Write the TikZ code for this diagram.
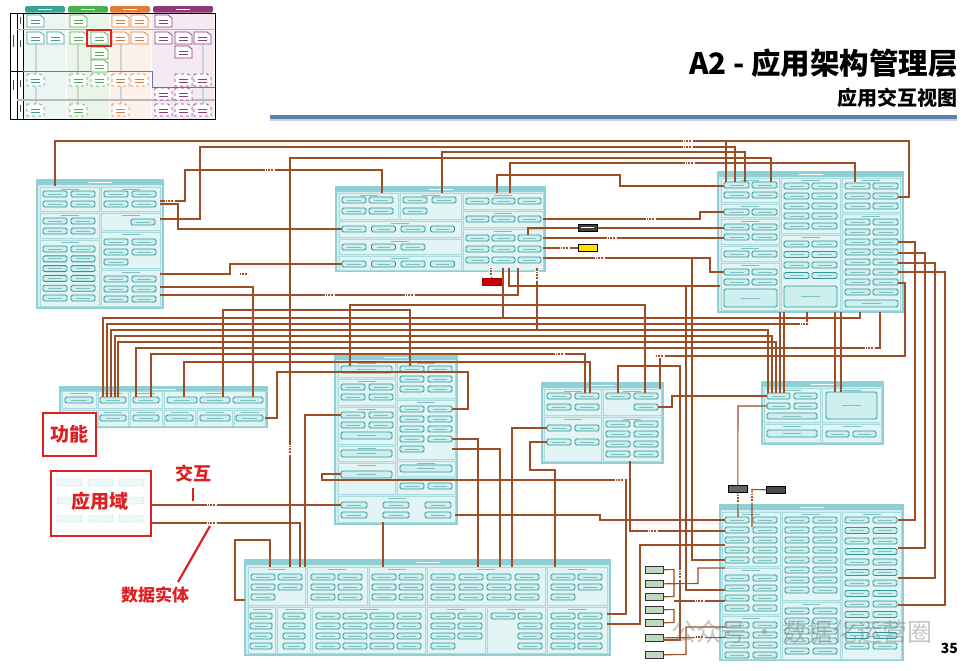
\documentclass[tikz,border=0pt]{standalone}
\usepackage{fontspec}
\setmainfont{Noto Sans CJK SC}
\definecolor{wireC}{HTML}{9E4E24}
\definecolor{domF}{HTML}{D3EDEF}
\definecolor{domB}{HTML}{8ED0D6}
\definecolor{sgF}{HTML}{E3F4F5}
\definecolor{sgB}{HTML}{A9DCE0}
\definecolor{pillB}{HTML}{2F9595}
\definecolor{pillF}{HTML}{CDEFF0}
\definecolor{ptxtC}{HTML}{7FBFBF}
\definecolor{redA}{HTML}{E02020}
\definecolor{thT}{HTML}{3AA393}
\definecolor{thG}{HTML}{4CAF50}
\definecolor{thO}{HTML}{E07B39}
\definecolor{thP}{HTML}{8E3A7A}
\definecolor{lineB}{HTML}{5B7FB0}
\tikzset{
  dom/.style={draw=domB, fill=domF, line width=2pt, inner sep=0pt, outer sep=0pt},
  domhead/.style={fill=domB},
  sgrp/.style={draw=sgB, fill=sgF, line width=0.5pt},
  sgt/.style={draw=ptxtC, line width=0.8pt},
  pill/.style={draw=pillB, fill=pillF, line width=0.9pt, rounded corners=1.5pt},
  ptxt/.style={draw=ptxtC, line width=0.9pt},
  wire/.style={draw=wireC, line width=1.1pt},
  redtxt/.style={text=redA, font=\bfseries\fontsize{19}{20}\selectfont, inner sep=0pt},
  smallbox/.style={draw=black, line width=0.6pt, minimum width=19, minimum height=7, inner sep=0pt, anchor=north west},
}
% pill grid: x0 y0 ncol nrow w h dx dy
\newcommand\pgrid[8]{\foreach \ii in {1,...,#3}{\foreach \jj in {1,...,#4}{%
  \path[pill] ({#1+(\ii-1)*#7},{#2+(\jj-1)*#8}) rectangle ++(#5,#6);
  \draw[ptxt] ({#1+(\ii-1)*#7+0.22*#5},{#2+(\jj-1)*#8+0.5*#6}) -- ++({0.56*#5},0);}}}
% wide pill / box: x1 y1 x2 y2
\newcommand\wpill[4]{\path[pill] (#1,#2) rectangle (#3,#4);
  \draw[ptxt] ({#1+0.32*(#3-#1)},{(#2+#4)/2}) -- ({#3-0.32*(#3-#1)},{(#2+#4)/2});}
% subgroup
\newcommand\sgroup[4]{\path[sgrp] (#1,#2) rectangle (#3,#4);
  \draw[sgt] ({(#1+#3)/2-9},{#2+2.6}) -- ({(#1+#3)/2+9},{#2+2.6});}
% domain: name x1 y1 x2 y2
\newcommand\dmn[5]{\node[dom,anchor=north west,minimum width={#4-#2},minimum height={#5-#3}] (#1) at (#2,#3) {};
  \fill[domhead] (#2,#3) rectangle (#4,#3+4.5);
  \draw[white,line width=0.7pt] ({(#2+#4)/2-12},{#3+2.3}) -- ({(#2+#4)/2+12},{#3+2.3});}
% thumbnail icon
\newcommand\thic[4]{\draw[#3,line width=0.7pt,fill=white,#4] (#1,#2) -- ++(13,0) -- ++(4,3) -- ++(0,9) -- ++(-17,0) -- cycle;
  \draw[#3,line width=0.5pt] (#1+4,#2+5) -- ++(9,0); \draw[#3,line width=0.5pt] (#1+4,#2+8) -- ++(9,0);}
% connector label marks
\newcommand\clab[2]{\fill[white] (#1-5,#2-2) rectangle (#1+5,#2+2);
  \draw[wireC,line width=1.3pt,dash pattern=on 1pt off 0.6pt] (#1-4,#2) -- (#1+4,#2);}
\newcommand\clabv[2]{\fill[white] (#1-2,#2-5) rectangle (#1+2,#2+5);
  \draw[wireC,line width=1.3pt,dash pattern=on 1pt off 0.6pt] (#1,#2-4) -- (#1,#2+4);}
\begin{document}
\begin{tikzpicture}[x=1pt,y=-1pt]
\useasboundingbox (0,0) rectangle (965,670);
\fill[white] (0,0) rectangle (965,670);

% ---------------- thumbnail ----------------
\fill[thT!10] (24,13) rectangle (66,119);
\fill[thG!12] (67,13) rectangle (109,119);
\fill[thO!10] (110,13) rectangle (151,119);
\fill[thP!10] (152,13) rectangle (214,119);
\fill[thT,rounded corners=1.5pt] (25,6) rectangle (65,12.5);
\fill[thG,rounded corners=1.5pt] (68,6) rectangle (108,12.5);
\fill[thO,rounded corners=1.5pt] (110,6) rectangle (150,12.5);
\fill[thP,rounded corners=1.5pt] (153,6) rectangle (213,12.5);
\foreach \cx in {45,88,130,183} \draw[white,line width=0.7pt] (\cx-7,9.3) -- (\cx+7,9.3);
\draw[gray!35,line width=1.4pt] (36,44) -- (36,104) (78,44) -- (78,104) (121,44) -- (121,104) (203,44) -- (203,104);
\draw[black,line width=0.9pt] (10,13) rectangle (215,119);
\draw[black,line width=0.7pt] (17,13) -- (17,119) (23,13) -- (23,119);
\draw[gray!60,line width=0.8pt] (17,29) -- (215,29);
\draw[black,line width=0.9pt] (10,71) -- (23,71);
\draw[lineB,line width=1pt] (23,71) -- (152,71) -- (152,87) -- (215,87);
\draw[gray!55,line width=1.4pt] (17,100) -- (215,100);
\foreach \yy/\hh in {35/12,80/10} \fill[black!70] (12.5,\yy) rectangle (14,\yy+\hh);
\foreach \yy in {17,40,80,105} \fill[black!70] (19.5,\yy) rectangle (21,\yy+7);
\foreach \x/\y/\c in {27/15/thT,70/15/thG,112/15/thO,131/15/thO,155/15/thP,
  27/32/thT,47/32/thT,70/32/thG,91/32/thG,112/32/thO,131/32/thO,155/32/thP,175/32/thP,194/32/thP,
  91/47/thG,175/46/thP,91/60/thG} {\thic{\x}{\y}{\c}{solid}}
\foreach \x/\y/\c in {27/74/thT,70/74/thG,91/74/thG,112/74/thO,131/74/thO,175/74/thP,194/74/thP,
  155/88/thP,175/88/thP,27/104/thT,70/104/thG,112/104/thO,155/104/thP,175/104/thP,194/104/thP} {\thic{\x}{\y}{\c}{dashed}}
\draw[redA,line width=1.6pt] (87,30) rectangle (111,46);

% ---------------- title ----------------
\node[anchor=east,font=\bfseries\fontsize{29.5}{30}\selectfont,inner sep=0pt] (t1) at (958,63) {A2 - 应用架构管理层};
\node[anchor=east,font=\bfseries\fontsize{20}{22}\selectfont,inner sep=0pt] (t2) at (958,98) {应用交互视图};
\fill[lineB] (270,115) rectangle (957,119);
\fill[lineB!35] (270,119) rectangle (957,121);

% ---------------- domain 1 ----------------
\dmn{d1}{37}{180}{163}{308}
\sgroup{40}{187}{99}{211}\pgrid{43}{191}{2}{2}{24}{6}{28}{10}
\sgroup{40}{213}{99}{238}\pgrid{43}{218}{2}{2}{24}{6}{28}{10}
\sgroup{40}{240}{99}{306}\pgrid{43}{246}{2}{6}{24}{6}{28}{9.8}
\sgroup{101}{187}{160}{211}\pgrid{104}{191}{2}{2}{24}{6}{28}{10}
\sgroup{101}{213}{160}{230}\pgrid{131}{219}{1}{1}{24}{6}{28}{10}
\sgroup{101}{232}{160}{268}\pgrid{104}{239}{2}{2}{24}{6}{28}{10}\pgrid{104}{259}{1}{1}{24}{6}{28}{10}
\sgroup{101}{270}{160}{306}\pgrid{104}{276}{2}{3}{24}{6}{28}{10}

% ---------------- domain 2 ----------------
\dmn{d2}{336}{187}{545}{271}
\sgroup{339}{193}{398}{219}\pgrid{342}{197}{2}{2}{24}{6}{27}{11}
\sgroup{400}{193}{461}{219}\pgrid{403}{197}{2}{1}{24}{6}{29}{11}\pgrid{403}{208}{1}{1}{24}{6}{29}{11}
\sgroup{339}{221}{461}{237}\pgrid{342}{226}{4}{1}{24}{6}{29.5}{11}
\sgroup{339}{239}{461}{254}\pgrid{342}{244}{3}{1}{24}{6}{29.5}{11}
\sgroup{339}{256}{461}{270}\pgrid{342}{261}{4}{1}{24}{6}{29.5}{11}
\sgroup{463}{193}{543}{209}\pgrid{466}{198}{3}{1}{23}{6}{26}{11}
\sgroup{463}{211}{543}{227}\pgrid{466}{216}{3}{1}{23}{6}{26}{11}
\sgroup{463}{229}{543}{270}\pgrid{466}{235}{3}{3}{23}{6}{26}{11}

% ---------------- domain 3 ----------------
\dmn{d3}{718}{172}{903}{312}
\sgroup{721}{178}{779}{202}\pgrid{724}{182}{2}{2}{25}{6}{28}{10}
\sgroup{721}{204}{779}{217}\pgrid{724}{209}{2}{1}{25}{6}{28}{10}
\sgroup{721}{219}{779}{244}\pgrid{724}{224}{2}{2}{25}{6}{28}{10}
\sgroup{721}{246}{779}{261}\pgrid{724}{251}{2}{1}{25}{6}{28}{10}
\sgroup{721}{263}{779}{310}\pgrid{724}{269}{2}{2}{25}{6}{28}{10}\wpill{724}{289}{777}{307}
\sgroup{781}{178}{840}{233}\pgrid{784}{183}{2}{5}{25}{6}{28}{10}
\sgroup{781}{235}{840}{310}\pgrid{784}{241}{2}{4}{25}{6}{28}{10.5}\wpill{784}{286}{837}{307}
\sgroup{842}{178}{900}{212}\pgrid{845}{183}{2}{3}{25}{6}{28}{10}
\sgroup{842}{214}{900}{310}\pgrid{845}{219}{2}{8}{25}{6}{28}{10}\wpill{845}{300}{898}{307}

% ---------------- domain 4 ----------------
\dmn{d4}{60}{387}{267}{427}
\sgroup{62}{391}{96}{408}\pgrid{65}{397}{1}{1}{28}{6}{30}{10}
\sgroup{98}{391}{128}{408}\pgrid{100}{397}{1}{1}{26}{6}{30}{10}
\sgroup{130}{391}{162}{408}\pgrid{133}{397}{1}{1}{26}{6}{30}{10}
\sgroup{164}{391}{265}{408}\pgrid{167}{397}{3}{1}{30}{6}{33}{10}
\sgroup{62}{410}{96}{426}
\sgroup{98}{410}{128}{426}\pgrid{100}{415}{1}{1}{26}{6}{30}{10}
\sgroup{130}{410}{162}{426}\pgrid{133}{415}{1}{1}{26}{6}{30}{10}
\sgroup{164}{410}{195}{426}\pgrid{166}{415}{1}{1}{27}{6}{30}{10}
\sgroup{197}{410}{232}{426}\pgrid{200}{415}{1}{1}{30}{6}{30}{10}
\sgroup{234}{410}{265}{426}\pgrid{236}{415}{1}{1}{27}{6}{30}{10}

% ---------------- domain 5 ----------------
\dmn{d5}{335}{355}{457}{524}
\sgroup{338}{361}{395}{377}\wpill{341}{366}{392}{373}
\sgroup{338}{379}{395}{405}\pgrid{341}{384}{2}{2}{24}{6}{28}{10}
\sgroup{338}{407}{395}{444}\pgrid{341}{412}{2}{2}{24}{6}{28}{10}\wpill{341}{432}{392}{439}
\sgroup{338}{446}{395}{461}\wpill{341}{450}{392}{457}
\sgroup{338}{463}{395}{494}\wpill{341}{471}{392}{478}
\sgroup{397}{361}{455}{398}\pgrid{400}{366}{2}{3}{24}{6}{28}{10}
\sgroup{397}{400}{455}{459}\pgrid{400}{406}{2}{4}{24}{6}{28}{10}\pgrid{400}{446}{1}{1}{24}{6}{28}{10}
\sgroup{397}{461}{455}{476}\wpill{400}{465}{452}{472}
\sgroup{397}{478}{455}{494}\pgrid{400}{483}{2}{1}{24}{6}{28}{10}
\sgroup{338}{496}{455}{522}\pgrid{341}{502}{3}{2}{26}{6}{42}{10}

% ---------------- domain 6 ----------------
\dmn{d6}{542}{383}{663}{463}
\sgroup{544}{389}{601}{415}\pgrid{547}{393}{2}{2}{24}{6}{28}{11}
\sgroup{603}{389}{661}{415}\pgrid{606}{393}{2}{1}{24}{6}{28}{11}\pgrid{634}{404}{1}{1}{24}{6}{28}{11}
\sgroup{544}{417}{601}{461}\pgrid{547}{425}{2}{2}{24}{6}{28}{14}
\sgroup{603}{417}{661}{461}\pgrid{606}{421}{2}{4}{24}{6}{28}{10}

% ---------------- domain 7 ----------------
\dmn{d7}{762}{382}{883}{444}
\sgroup{764}{388}{820}{422}\pgrid{767}{393}{2}{2}{23}{6}{27}{10}\wpill{767}{413}{817}{419}
\sgroup{764}{424}{820}{442}\wpill{767}{430}{817}{437}
\sgroup{822}{388}{881}{422}\wpill{826}{392}{877}{419}
\sgroup{822}{424}{881}{442}\pgrid{826}{431}{2}{1}{23}{6}{27}{10}

% ---------------- domain 8 ----------------
\dmn{d8}{720}{505}{903}{660}
\sgroup{722}{512}{780}{566}\pgrid{725}{517}{2}{5}{24}{6}{28}{10}
\sgroup{722}{568}{780}{614}\pgrid{725}{575}{2}{4}{24}{6}{28}{10}
\sgroup{722}{616}{780}{659}\pgrid{725}{622}{2}{4}{24}{6}{28}{10}
\sgroup{782}{512}{840}{600}\pgrid{785}{517}{2}{8}{24}{6}{28}{10}
\sgroup{782}{602}{840}{659}\pgrid{785}{608}{2}{5}{24}{6}{28}{10}
\sgroup{842}{512}{901}{659}\pgrid{845}{517}{2}{13}{24}{6}{28}{10.5}

% ---------------- domain 9 ----------------
\dmn{d9}{245}{560}{610}{655}
\sgroup{248}{567}{305}{605}\pgrid{251}{574}{2}{2}{24}{6}{27}{10}\pgrid{251}{594}{1}{1}{24}{6}{27}{10}
\sgroup{307}{567}{367}{605}\pgrid{311}{574}{2}{3}{24}{6}{27}{10}
\sgroup{369}{567}{425}{605}\pgrid{372}{574}{2}{3}{24}{6}{27}{10}
\sgroup{427}{567}{545}{605}\pgrid{431}{574}{4}{3}{24}{6}{28}{10}
\sgroup{547}{567}{607}{605}\pgrid{551}{574}{2}{2}{24}{6}{27}{10}\pgrid{551}{594}{1}{1}{24}{6}{27}{10}
\sgroup{248}{607}{275}{653}\pgrid{250}{613}{1}{4}{22}{6}{27}{10}
\sgroup{277}{607}{310}{653}\pgrid{283}{613}{1}{4}{22}{6}{27}{10}
\sgroup{312}{607}{425}{653}\pgrid{316}{613}{4}{4}{24}{6}{27}{10}
\sgroup{427}{607}{485}{653}\pgrid{431}{613}{2}{3}{24}{6}{27}{10}\pgrid{431}{643}{1}{1}{24}{6}{27}{10}
\sgroup{487}{607}{545}{653}\pgrid{491}{613}{1}{1}{24}{6}{27}{10}\pgrid{518}{613}{1}{4}{24}{6}{27}{10}
\sgroup{547}{607}{607}{653}\pgrid{551}{613}{2}{4}{24}{6}{27}{10}

% ---------------- small system boxes ----------------
\node[smallbox,fill=black!75,draw=black] (kb) at (578,224) {};
\fill[white] (581,227) rectangle (594,228);
\node[smallbox,fill=yellow!85!orange,draw=black] (yb) at (578,244) {};
\node[smallbox,fill=red!80!black,draw=red!60!black] (rb) at (482,278) {};
\node[smallbox,fill=black!60,draw=black] (gb1) at (728,485) {};
\node[smallbox,fill=black!70,draw=black] (gb2) at (766,486) {};
\foreach \gy/\gn in {566/g1,580/g2,593/g3,606/g4,619/g5,634/g6,651/g7}
  \node[draw=black!80,fill=green!25!gray!40,line width=0.6pt,minimum width=18,minimum height=7,inner sep=0pt,anchor=north west] (\gn) at (645,\gy) {};

% ---------------- connectors ----------------
\draw[wire] (55,186) -- (55,141) -- (909,141) -- (909,197) -- (898,197);
\draw[wire] (726,141) -- (726,182);
\draw[wire] (160,219) -- (200,219) -- (200,147) -- (735,147) -- (735,182);
\draw[wire] (442,193) -- (442,152) -- (745,152) -- (745,182);
\draw[wire] (771,182) -- (771,158) -- (290,158) -- (290,567);
\draw[wire] (510,193) -- (510,163) -- (855,163) -- (855,182);
\draw[wire] (160,201) -- (185,201) -- (185,170) -- (382,170) -- (382,193);
\draw[wire] (497,193) -- (497,175) -- (620,175) -- (620,186) -- (724,186);
\draw[wire] (160,204) -- (178,204) -- (178,229) -- (342,229);
\draw[wire] (160,274) -- (230,274) -- (230,264) -- (342,264);
\draw[wire] (160,287) -- (253,287) -- (253,397);
\draw[wire] (160,295) -- (518,295) -- (518,268);
% domain2 <-> domain3
\draw[wire] (528,235) -- (528,228) -- (kb.west |- 0,228);
\draw[wire] (kb.east |- 0,228) -- (724,228);
\draw[wire] (543,219) -- (700,219) -- (700,212) -- (724,212);
\draw[wire] (543,238) -- (724,238);
\draw[wire] (543,248) -- (yb.west |- 0,248);
\draw[wire] (543,258) -- (710,258) -- (710,272) -- (724,272);
\draw[wire] (491,268) -- (rb.north);
\draw[wire] (503,268) -- (503,318);
\draw[wire] (509,268) -- (509,286) -- (720,286);
\draw[wire] (537,268) -- (537,330);
% right side verticals
\draw[wire] (898,242) -- (915,242) -- (915,520) -- (898,520);
\draw[wire] (898,253) -- (925,253) -- (925,548) -- (898,548);
\draw[wire] (898,263) -- (935,263) -- (935,578) -- (898,578);
\draw[wire] (898,272) -- (945,272) -- (945,605) -- (898,605);
\draw[wire] (898,283) -- (905,283) -- (905,356) -- (660,356) -- (660,389);
% middle band to domain 4
\draw[wire] (103,397) -- (103,318) -- (860,318) -- (860,312);
\draw[wire] (107,397) -- (107,324) -- (807,324) -- (807,312);
\draw[wire] (111,397) -- (111,330) -- (768,330) -- (768,393);
\draw[wire] (115,397) -- (115,336) -- (772,336) -- (772,393);
\draw[wire] (118,397) -- (118,342) -- (776,342) -- (776,393);
\draw[wire] (136,397) -- (136,348) -- (880,348) -- (880,312);
\draw[wire] (151,397) -- (151,354) -- (585,354) -- (585,393);
\draw[wire] (184,397) -- (184,362) -- (590,362) -- (590,393);
\draw[wire] (223,397) -- (223,310) -- (410,310) -- (410,366);
\draw[wire] (350,366) -- (350,305) -- (645,305) -- (645,393);
\draw[wire] (780,393) -- (780,312);
\draw[wire] (784,393) -- (784,312);
\draw[wire] (835,392) -- (835,312);
\draw[wire] (841,392) -- (841,312);
% domain4 / domain5 / domain6 / domain7
\draw[wire] (265,418) -- (277,418) -- (277,372) -- (468,372) -- (468,409) -- (452,409);
\draw[wire] (341,415) -- (305,415) -- (305,567);
\draw[wire] (452,439) -- (478,439) -- (478,567);
\draw[wire] (452,449) -- (500,449) -- (500,567);
\draw[wire] (383,522) -- (383,567);
\draw[wire] (547,428) -- (512,428) -- (512,567);
\draw[wire] (547,442) -- (530,442) -- (530,470) -- (555,470) -- (555,567);
\draw[wire] (658,407) -- (672,407) -- (672,396) -- (767,396);
\draw[wire] (767,406) -- (738,406) -- (gb1.north);
\draw[wire] (gb1.south) -- (738,517);
\draw[wire] (gb2.west) -- (752,489.5) -- (752,527);
\draw[wire] (618,393) -- (618,366) -- (680,366) -- (680,640) -- (663,640);
\draw[wire] (686,286) -- (686,590) -- (725,590);
\draw[wire] (692,258) -- (692,560) -- (725,560);
% domain8 left side
\draw[wire] (455,515) -- (600,515) -- (600,520) -- (725,520);
\draw[wire] (630,461) -- (630,531) -- (725,531);
\draw[wire] (607,624) -- (640,624) -- (640,545) -- (725,545);
\draw[wire] (607,614) -- (626,614) -- (626,480) -- (322,480) -- (322,474) -- (341,474);
\draw[wire] (g1.east) -- (674,569.5) -- (674,596.5) -- (g3.east);
\draw[wire] (g2.east) -- (698,583.5) -- (698,568) -- (725,568);
\draw[wire] (g4.east) -- (674,609.5) -- (674,622.5) -- (g5.east);
\draw[wire] (674,601) -- (725,601);
\draw[wire] (g6.east) -- (725,637.5);
\draw[wire] (g7.east) -- (686,654.5) -- (686,627) -- (725,627);
% application-domain legend lines
\node[draw=redA,line width=2pt,fill=white,minimum width=100,minimum height=65,anchor=north west,inner sep=0pt] (yyd) at (50,470) {};
\foreach \i in {0,1,2}{\foreach \j in {0,1,2}{\draw[pillB!30,fill=pillF!40,rounded corners=2pt] ({57+\i*31},{479+\j*18}) rectangle ++(25,7);}}
\draw[wire] (yyd.east |- 0,505) -- (341,505);
\draw[wire] (yyd.east |- 0,523) -- (300,523) -- (300,567);
\draw[wire] (245,600) -- (235,600) -- (235,540) -- (270,540) -- (270,567);

% connector labels
\clab{688}{141}\clab{688}{147}\clab{690}{163}\clab{270}{170}\clab{170}{201}
\clab{244}{274}\clab{330}{295}\clab{410}{295}\clab{612}{238}\clab{565}{248}
\clab{600}{258}\clab{651}{219}\clab{805}{324}\clab{870}{348}\clab{560}{354}
\clab{660}{356}\clab{212}{505}\clab{212}{523}\clab{653}{531}\clab{700}{601}
\clab{700}{637}\clab{620}{480}
\clabv{491}{272}\clabv{537}{276}\clabv{738}{499}\clabv{752}{498}\clabv{290}{450}\clabv{680}{575}

% ---------------- red annotations ----------------
\node[draw=redA,line width=2pt,fill=white,minimum width=53,minimum height=43,anchor=north west,redtxt] (gn) at (42,412) {功能};
\node[redtxt] (yydt) at (100,501) {应用域};
\node[redtxt,font=\bfseries\fontsize{18}{19}\selectfont] (jh) at (193,474) {交互};
\draw[redA,line width=2.2pt] (193,488) -- (193,501);
\node[redtxt,font=\bfseries\fontsize{17}{18}\selectfont] (sjst) at (155,595) {数据实体};
\draw[redA,line width=2.2pt] (178,582) -- (210,526);

% ---------------- watermark & page number ----------------
\node[text=gray,opacity=0.45,font=\fontsize{25}{26}\selectfont,inner sep=0pt] (wm) at (802,632) {公众号 · 数据化运营圈};
\node[font=\bfseries\fontsize{14}{15}\selectfont,anchor=east,inner sep=0pt] (pn) at (958,648) {35};
\end{tikzpicture}
\end{document}
